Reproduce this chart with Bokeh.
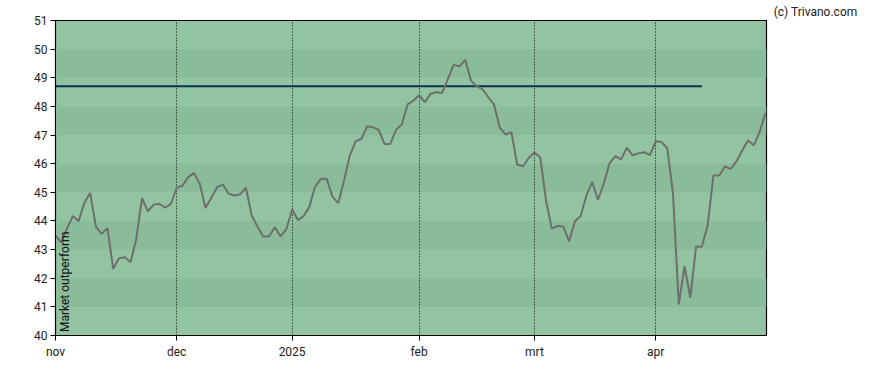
import math
from bokeh.plotting import figure
from bokeh.models import Range1d, FixedTicker, BoxAnnotation, Label, Title
from bokeh.embed import file_html
from bokeh.resources import INLINE

# trading-day index -> value
values = [
    43.49, 43.25, 43.74, 44.17, 43.99, 44.63, 44.98, 43.80, 43.55, 43.75,
    42.33, 42.70, 42.73, 42.56, 43.38, 44.80, 44.34, 44.57, 44.60, 44.46,
    44.60, 45.16, 45.23, 45.53, 45.67, 45.30, 44.45, 44.81, 45.18, 45.27,
    44.95, 44.89, 44.93, 45.16, 44.19, 43.80, 43.46, 43.46, 43.78, 43.46,
    43.71, 44.40, 44.03, 44.17, 44.50, 45.21, 45.47, 45.47, 44.85, 44.62,
    45.41, 46.29, 46.78, 46.87, 47.30, 47.28, 47.18, 46.69, 46.69, 47.18,
    47.37, 48.07, 48.20, 48.39, 48.15, 48.44, 48.50, 48.47, 48.96, 49.45,
    49.40, 49.63, 48.90, 48.70, 48.60, 48.32, 48.06, 47.25, 47.02, 47.10,
    45.97, 45.91, 46.20, 46.40, 46.22, 44.71, 43.73, 43.83, 43.80, 43.29,
    43.99, 44.17, 44.89, 45.36, 44.74, 45.30, 46.02, 46.26, 46.15, 46.56,
    46.29, 46.36, 46.40, 46.30, 46.78, 46.76, 46.54, 44.95, 41.08, 42.42,
    41.32, 43.11, 43.10, 43.84, 45.59, 45.59, 45.90, 45.82, 46.08, 46.46,
    46.81, 46.64, 47.10, 47.76,
]
index = list(range(len(values)))

month_positions = [0, 21, 41, 63, 83, 104]
month_labels = ["nov", "dec", "2025", "feb", "mrt", "apr"]

ref_level = 48.7
ref_start = 0
ref_end = 112

y_ticks = list(range(40, 52))
dark_bands = [41, 43, 45, 47, 49]

FONT = "Roboto"

p = figure(width=872, height=362, output_backend="svg", toolbar_location=None,
           x_range=Range1d(0, 123.2), y_range=Range1d(40, 51),
           min_border_left=55, min_border_right=106, min_border_top=20, min_border_bottom=27)

p.background_fill_color = "#93C4A2"
p.border_fill_color = "white"
p.outline_line_color = "black"
p.outline_line_width = 1.2

for b in dark_bands:
    p.add_layout(BoxAnnotation(bottom=b, top=b + 1, fill_color="#8BBC9A", fill_alpha=1.0,
                               line_alpha=0, level="image"))

p.ygrid.visible = False
p.xgrid.ticker = FixedTicker(ticks=month_positions)
p.xgrid.grid_line_color = "black"
p.xgrid.grid_line_dash = "1 2"
p.xgrid.grid_line_width = 1
p.xgrid.level = "underlay"

p.xaxis.ticker = FixedTicker(ticks=month_positions)
p.xaxis.major_label_overrides = {pos: lab for pos, lab in zip(month_positions, month_labels)}
p.yaxis.ticker = FixedTicker(ticks=y_ticks)
for ax in (p.xaxis, p.yaxis):
    ax.minor_tick_line_color = None
    ax.major_tick_in = 0
    ax.major_tick_out = 5
    ax.major_tick_line_color = "black"
    ax.axis_line_color = "black"
    ax.major_label_text_font = FONT
    ax.major_label_text_font_size = "12px"
    ax.major_label_text_color = "#222222"
p.xaxis.major_label_standoff = 4
p.yaxis.major_label_standoff = 3

p.line([ref_start, ref_end], [ref_level, ref_level], line_color="#0B3152", line_width=2)
p.line(index, values, line_color="#6E6E6E", line_width=2)

p.add_layout(Label(x=0.45, y=40.12, text="Market outperform", angle=math.pi / 2,
                   text_align="left", text_baseline="top", text_font=FONT,
                   text_font_size="12px", text_color="#111111"))

p.add_layout(Title(text="(c) Trivano.com", align="right", offset=-91, standoff=0,
                   vertical_align="top", text_font=FONT, text_font_size="12px",
                   text_font_style="normal", text_color="#222222"), "above")

open("out.html", "w").write(file_html(p, INLINE))
